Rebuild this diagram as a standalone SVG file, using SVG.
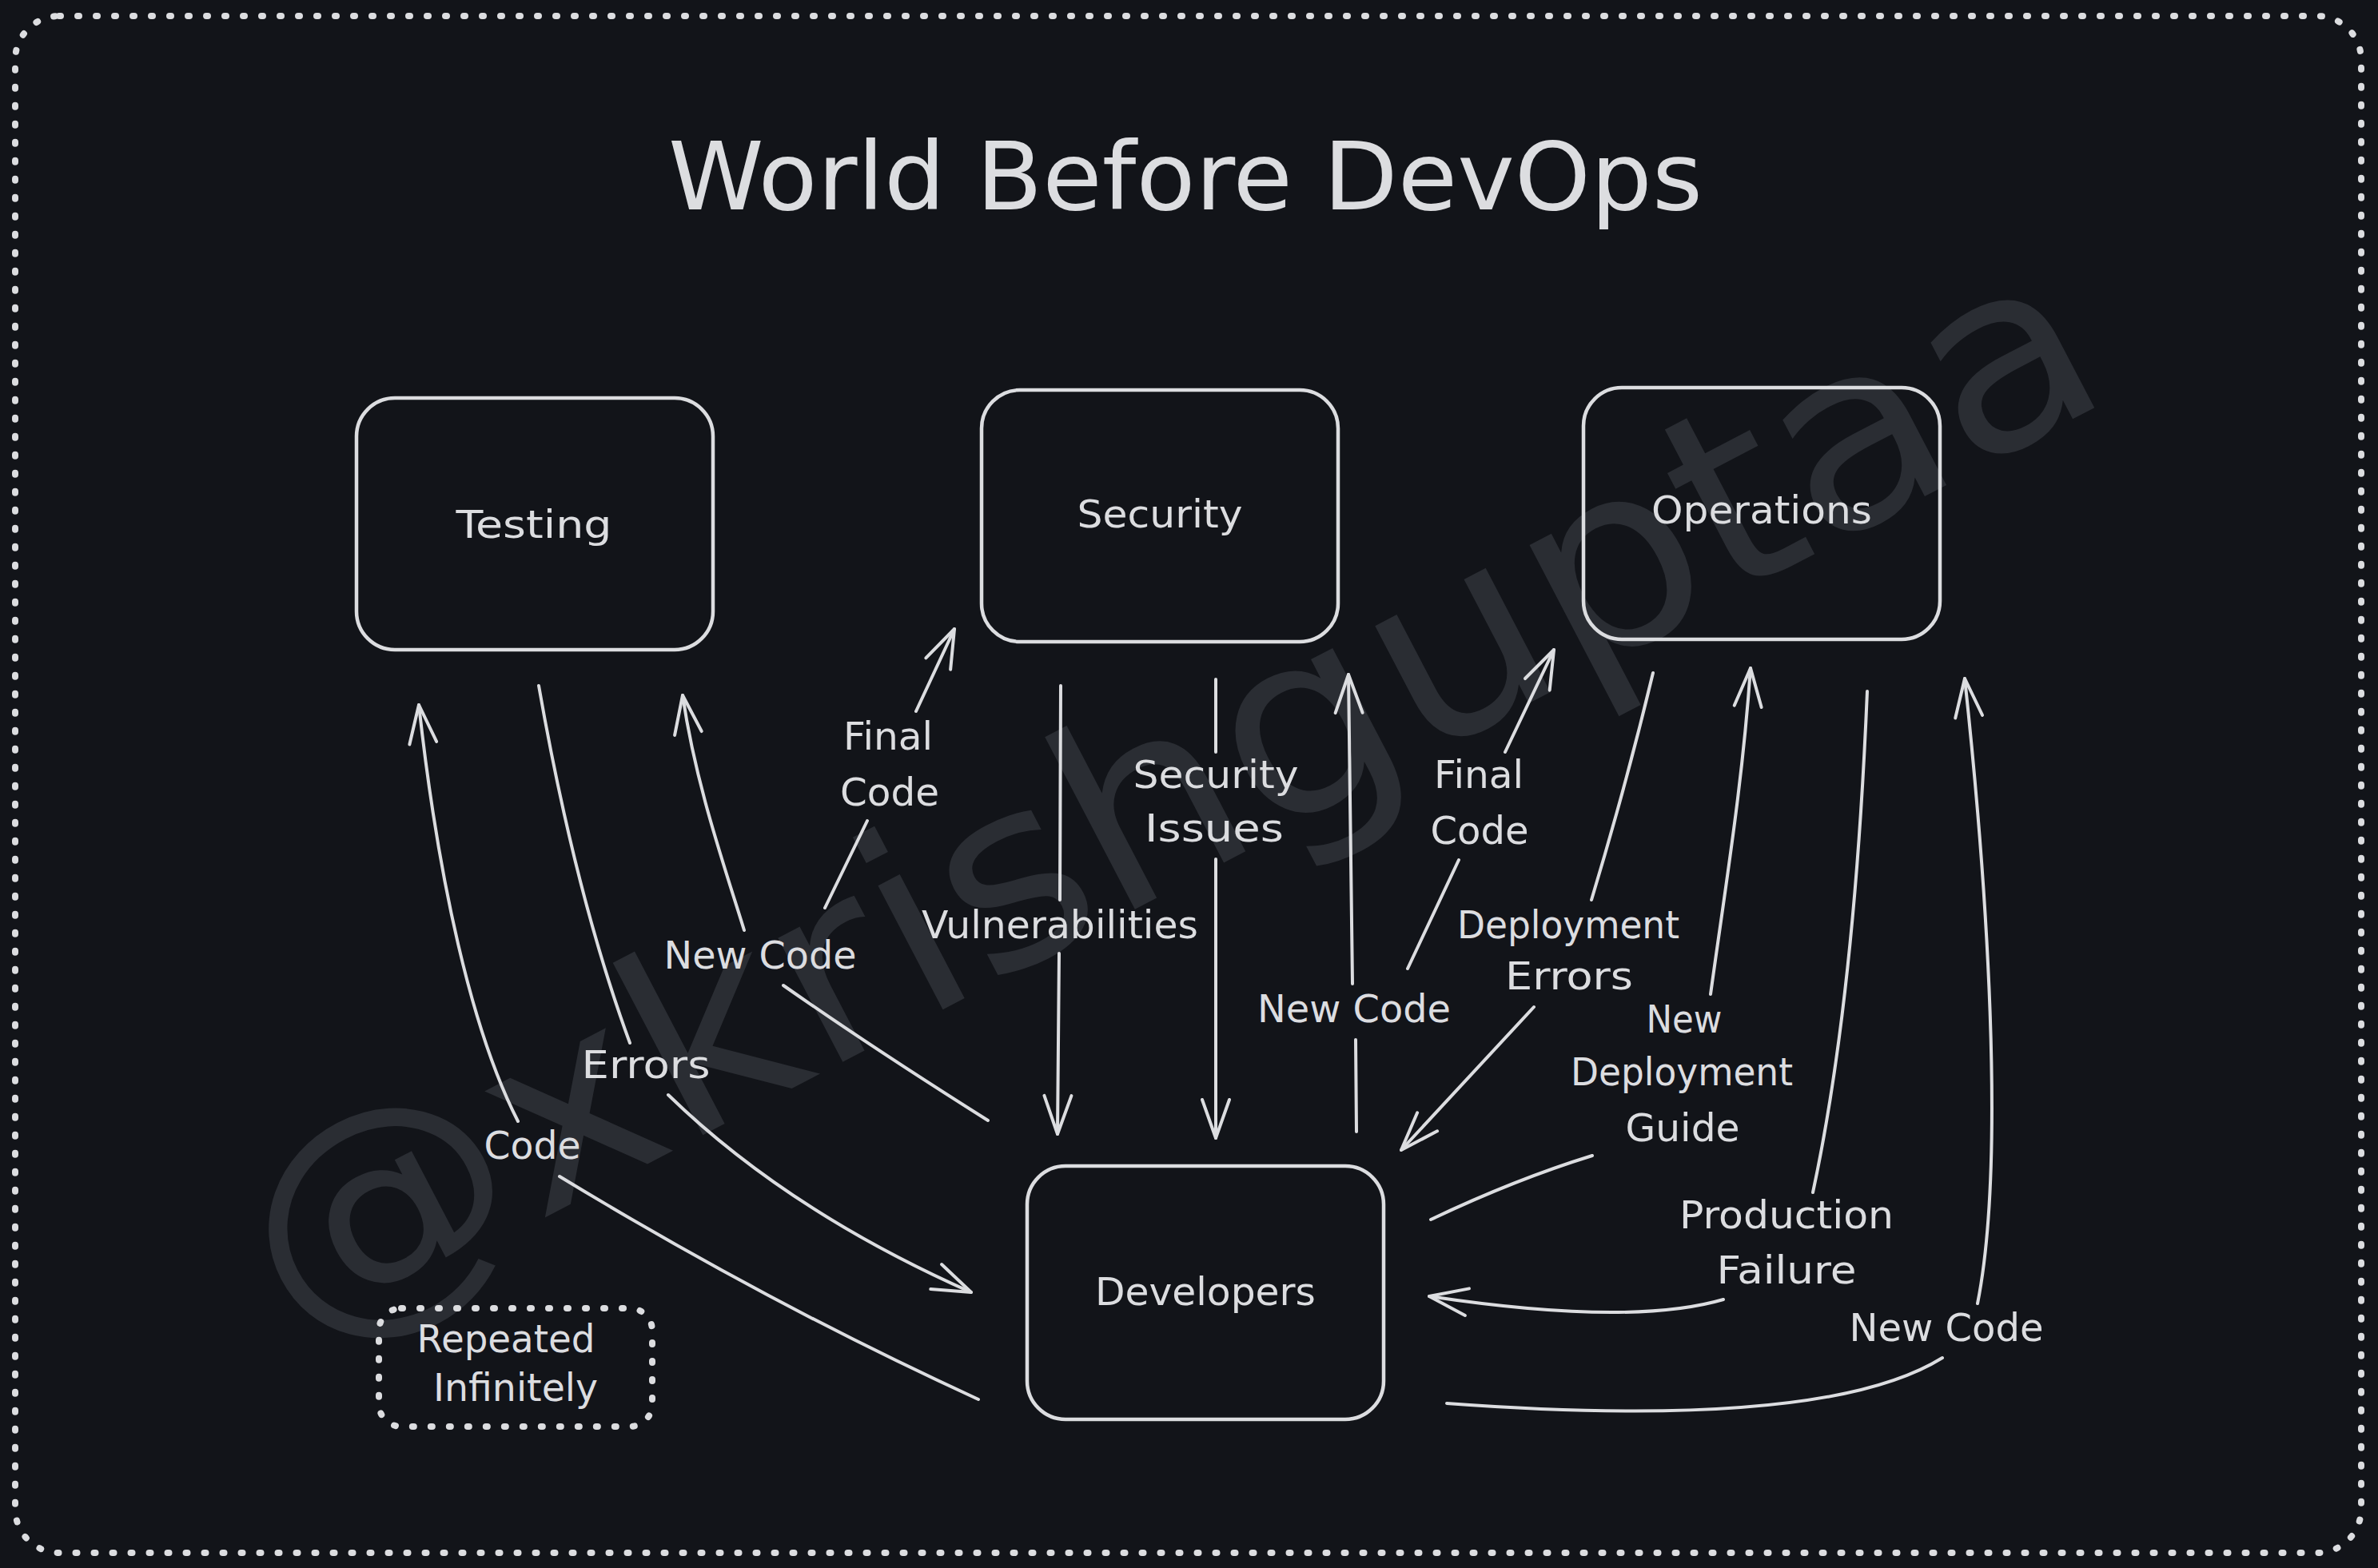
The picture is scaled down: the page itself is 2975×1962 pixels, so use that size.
<svg xmlns="http://www.w3.org/2000/svg" width="2975" height="1962" viewBox="0 0 2975 1962">
  <style>
    .bg { fill: #121419; }
    .box { fill: none; stroke: #dcdde0; stroke-width: 4.5; }
    .dotted { fill: none; stroke: #dcdde0; stroke-width: 8; stroke-linecap: round; stroke-dasharray: 2 21; }
    .conn { fill: none; stroke: #dcdde0; stroke-width: 4; stroke-linecap: round; stroke-linejoin: round; }
    .lbl { font-family: "DejaVu Sans", "Liberation Sans", sans-serif; font-size: 48px; fill: #dcdde0; text-anchor: middle; }
    .title { font-family: "DejaVu Sans", "Liberation Sans", sans-serif; font-size: 118px; fill: #dcdde0; text-anchor: middle; }
    .wm { font-family: "DejaVu Sans", "Liberation Sans", sans-serif; font-size: 320px; fill: #2a2d33; }
  </style>
  <defs>
    <marker id="ah" markerUnits="userSpaceOnUse" orient="auto" markerWidth="70" markerHeight="50" viewBox="-60 -25 70 50" refX="0" refY="0" overflow="visible">
      <path d="M -48 -17 L 0 0 L -48 17" fill="none" stroke="#dcdde0" stroke-width="4" stroke-linecap="round" stroke-linejoin="round"/>
    </marker>
  </defs>

  <rect class="bg" x="0" y="0" width="2975" height="1962"/>

  <!-- watermark -->
  <text class="wm" transform="translate(371,1686) rotate(-27.6)" x="0" y="0" textLength="2569" lengthAdjust="spacingAndGlyphs">@xkrishguptaa</text>

  <!-- outer dotted frame -->
  <rect class="dotted" x="19" y="20" width="2935" height="1923" rx="55"/>

  <!-- title -->
  <text class="title" x="1483" y="262" textLength="1294" lengthAdjust="spacingAndGlyphs">World Before DevOps</text>

  <!-- nodes -->
  <g id="testing">
    <rect class="box" x="446" y="498" width="446" height="315" rx="48"/>
    <text class="lbl" x="668" y="673" textLength="195" lengthAdjust="spacingAndGlyphs">Testing</text>
  </g>
  <g id="security">
    <rect class="box" x="1228" y="488" width="446" height="315" rx="48"/>
    <text class="lbl" x="1451" y="660" textLength="207" lengthAdjust="spacingAndGlyphs">Security</text>
  </g>
  <g id="operations">
    <rect class="box" x="1981" y="485" width="446" height="315" rx="48"/>
    <text class="lbl" x="2204" y="655" textLength="276" lengthAdjust="spacingAndGlyphs">Operations</text>
  </g>
  <g id="developers">
    <rect class="box" x="1285" y="1459" width="446" height="317" rx="48"/>
    <text class="lbl" x="1508" y="1633" textLength="276" lengthAdjust="spacingAndGlyphs">Developers</text>
  </g>
  <g id="repeated-infinitely">
    <rect class="dotted" x="474" y="1637" width="342" height="148" rx="28"/>
    <text class="lbl" x="633" y="1692" textLength="223" lengthAdjust="spacingAndGlyphs">Repeated</text>
    <text class="lbl" x="645" y="1753" textLength="206" lengthAdjust="spacingAndGlyphs">Infinitely</text>
  </g>

  <!-- connectors -->
  <g id="connectors">
    <path class="conn" marker-end="url(#ah)" d="M 1224 1751 Q 960 1630 700 1472 M 648 1403 C 590 1290 548 1100 524 882"/>
    <path class="conn" marker-end="url(#ah)" d="M 674 858 Q 720 1120 788 1305 M 836 1370 Q 985 1515 1215 1617"/>
    <path class="conn" marker-end="url(#ah)" d="M 1236 1402 Q 1090 1310 980 1233 M 931 1164 C 905 1080 870 980 854 870"/>
    <path class="conn" marker-end="url(#ah)" d="M 1032 1136 L 1085 1027 M 1146 890 L 1194 787"/>
    <path class="conn" marker-end="url(#ah)" d="M 1327 858 L 1326 1126 M 1325 1193 L 1323 1419"/>
    <path class="conn" marker-end="url(#ah)" d="M 1521 850 L 1521 941 M 1521 1075 L 1521 1424"/>
    <path class="conn" marker-end="url(#ah)" d="M 1697 1416 L 1696 1301 M 1692 1231 L 1687 844"/>
    <path class="conn" marker-end="url(#ah)" d="M 1761 1212 L 1825 1076 M 1883 941 L 1944 813"/>
    <path class="conn" marker-end="url(#ah)" d="M 2068 842 Q 2035 980 1991 1126 M 1919 1260 Q 1840 1345 1753 1439"/>
    <path class="conn" marker-end="url(#ah)" d="M 1790 1526 Q 1895 1476 1992 1446 M 2140 1244 C 2160 1100 2180 980 2190 836"/>
    <path class="conn" marker-end="url(#ah)" d="M 2336 865 Q 2320 1250 2268 1492 M 2156 1626 Q 2040 1660 1788 1622"/>
    <path class="conn" marker-end="url(#ah)" d="M 1810 1756 C 2000 1770 2300 1780 2430 1699 M 2474 1631 C 2510 1450 2485 1100 2458 849"/>

    <text class="lbl" x="666" y="1450" textLength="121" lengthAdjust="spacingAndGlyphs">Code</text>
    <text class="lbl" x="808" y="1349" textLength="161" lengthAdjust="spacingAndGlyphs">Errors</text>
    <text class="lbl" x="951" y="1212" textLength="241" lengthAdjust="spacingAndGlyphs">New Code</text>
    <text class="lbl" x="1111" y="938" textLength="112" lengthAdjust="spacingAndGlyphs">Final</text>
    <text class="lbl" x="1113" y="1008" textLength="124" lengthAdjust="spacingAndGlyphs">Code</text>
    <text class="lbl" x="1326" y="1174" textLength="346" lengthAdjust="spacingAndGlyphs">Vulnerabilities</text>
    <text class="lbl" x="1521" y="986" textLength="207" lengthAdjust="spacingAndGlyphs">Security</text>
    <text class="lbl" x="1519" y="1053" textLength="174" lengthAdjust="spacingAndGlyphs">Issues</text>
    <text class="lbl" x="1694" y="1279" textLength="242" lengthAdjust="spacingAndGlyphs">New Code</text>
    <text class="lbl" x="1850" y="986" textLength="112" lengthAdjust="spacingAndGlyphs">Final</text>
    <text class="lbl" x="1851" y="1056" textLength="123" lengthAdjust="spacingAndGlyphs">Code</text>
    <text class="lbl" x="1962" y="1174" textLength="278" lengthAdjust="spacingAndGlyphs">Deployment</text>
    <text class="lbl" x="1963" y="1238" textLength="160" lengthAdjust="spacingAndGlyphs">Errors</text>
    <text class="lbl" x="2107" y="1292" textLength="95" lengthAdjust="spacingAndGlyphs">New</text>
    <text class="lbl" x="2104" y="1358" textLength="278" lengthAdjust="spacingAndGlyphs">Deployment</text>
    <text class="lbl" x="2105" y="1428" textLength="143" lengthAdjust="spacingAndGlyphs">Guide</text>
    <text class="lbl" x="2235" y="1537" textLength="268" lengthAdjust="spacingAndGlyphs">Production</text>
    <text class="lbl" x="2235" y="1606" textLength="175" lengthAdjust="spacingAndGlyphs">Failure</text>
    <text class="lbl" x="2435" y="1678" textLength="243" lengthAdjust="spacingAndGlyphs">New Code</text>
  </g>
</svg>
